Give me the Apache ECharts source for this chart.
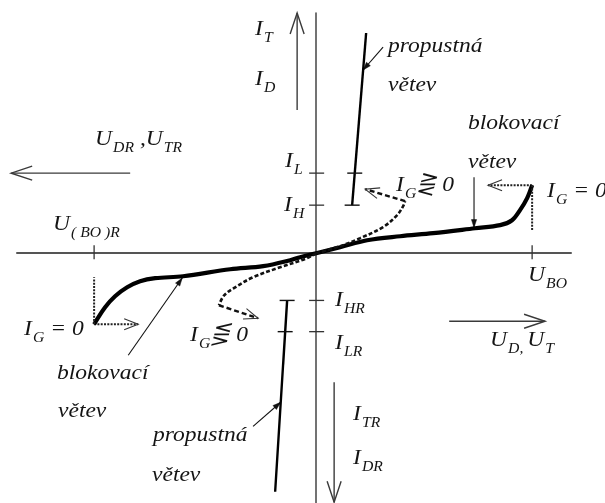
<!DOCTYPE html>
<html>
<head>
<meta charset="utf-8">
<script src="https://cdn.jsdelivr.net/npm/echarts@6/dist/echarts.min.js"></script>
<style>
  html, body { margin: 0; padding: 0; background: #fff; }
  #chart { width: 605px; height: 503px; }
</style>
</head>
<body>
<div id="chart"></div>
<script>
// Thyristor / triac volt-ampere characteristic (schematic units)
const U_BO = 10.0;      // forward breakover voltage
const U_BOR = -10.28;   // reverse breakover voltage
const I_L = 5.0;        // latching current
const I_H = 3.0;        // holding current
const I_HR = -2.95;     // reverse holding current
const I_LR = -4.9;      // reverse latching current

// blocking branch, I_G = 0 (reverse end -> forward end)
const blockingCurve = [
  [U_BOR, -4.44], [-9.77, -3.38], [-9.31, -2.69], [-8.75, -2.13], [-8.15, -1.75],
  [-7.45, -1.56], [-6.16, -1.44], [-3.98, -1.0], [-2.45, -0.81], [-1.2, -0.44],
  [-0.74, -0.25], [0, 0], [1.11, 0.375], [2.36, 0.81], [3.89, 1.06], [5.42, 1.25],
  [7.36, 1.56], [8.52, 1.75], [9.07, 2.06], [9.44, 2.69], [9.77, 3.44], [U_BO, 4.25]
];
// blocking branch with gate current
const gateCurveFwd = [[0, 0], [1.11, 0.44], [2.04, 0.94], [3.1, 1.63], [3.75, 2.38], [4.03, 2.94], [4.12, 3.25]];
const gateCurveRev = [[0, 0], [-0.42, -0.31], [-1.67, -0.88], [-2.92, -1.5], [-3.75, -2.13], [-4.26, -2.63], [-4.5, -3.25]];
// on-state (conducting) branches
const onStateFwd = [[1.667, I_H], [2.315, 13.75]];
const onStateRev = [[-1.343, I_HR], [-1.898, -14.9]];
// breakover switching guides
const breakoverFwd = [[U_BO, 4.25], [U_BO, 1.44]];
const breakoverRev = [[U_BOR, -4.44], [U_BOR, -1.5]];

// arrows: [x1, y1, x2, y2], tip at the second point
const quantityArrows = [
  [-0.88, 8.94, -0.88, 15.0],
  [-8.61, 5.0, -14.12, 5.0],
  [6.16, -4.25, 10.6, -4.25],
  [0.833, -8.06, 0.833, -15.55]
];
const switchArrows = [[U_BO, 4.25, 7.96, 4.25], [U_BOR, -4.44, -8.24, -4.44]];
const gateArrows = [[4.12, 3.25, 2.27, 4.0], [-4.5, -3.25, -2.69, -4.06]];
const pointerArrows = [
  [3.10, 12.875, 2.176, 11.44],
  [-2.92, -10.81, -1.64, -9.31],
  [7.31, 4.75, 7.31, 1.6],
  [-8.70, -6.375, -6.2, -1.55]
];

// tick marks on the axes
const currentTicks = [I_L, I_H, I_HR, I_LR];
const voltageTicks = [U_BO, U_BOR];

const FONT = "'Liberation Serif', 'Times New Roman', serif";
const MAIN_SIZE = 21, SUB_SIZE = 14, SUB_DROP = 6.5, SUB_GAP = 1, STRETCH = 1.12;
const INK = '#141414';

// labels: [left x, baseline y, parts]; a part is [text, isSubscript]
const labels = [
  [255, 36, [['I'], ['T', 1]]],
  [255, 86, [['I'], ['D', 1]]],
  [95, 146, [['U'], ['DR', 1], [' ,U'], ['TR', 1]]],
  [53, 231, [['U'], ['( BO )R', 1]]],
  [528, 282, [['U'], ['BO', 1]]],
  [285, 168, [['I'], ['L', 1]]],
  [284, 212, [['I'], ['H', 1]]],
  [335, 307, [['I'], ['HR', 1]]],
  [335, 350, [['I'], ['LR', 1]]],
  [353, 421, [['I'], ['TR', 1]]],
  [353, 465, [['I'], ['DR', 1]]],
  [490, 347, [['U'], ['D, ', 1], ['U'], ['T', 1]]],
  [396, 192, [['I'], ['G', 1], ['\u22DB 0']]],
  [190, 342, [['I'], ['G', 1], ['\u22DA 0']]],
  [24, 336, [['I'], ['G', 1], [' = 0']]],
  [547, 198, [['I'], ['G', 1], [' = 0']]],
  [388, 53, [['propustná']]],
  [388, 92, [['větev']]],
  [468, 130, [['blokovací']]],
  [468, 169, [['větev']]],
  [57, 380, [['blokovací']]],
  [58, 418, [['větev']]],
  [153, 442, [['propustná']]],
  [152, 482, [['větev']]]
];

const measureCtx = document.createElement('canvas').getContext('2d');
function textWidth(s, size) {
  measureCtx.font = 'italic ' + size + 'px ' + FONT;
  return measureCtx.measureText(s).width;
}
function buildLabel(item) {
  const [x, y, parts] = item;
  let cx = 0;
  const children = [];
  parts.forEach(function (p) {
    const sub = !!p[1];
    const size = sub ? SUB_SIZE : MAIN_SIZE;
    if (sub) cx += SUB_GAP;
    children.push({
      type: 'text', x: cx, y: (sub ? SUB_DROP : 0) - 0.3 * size,
      style: { text: p[0], font: 'italic ' + size + 'px ' + FONT, fill: INK, align: 'left', verticalAlign: 'middle' }
    });
    cx += textWidth(p[0], size);
  });
  return { type: 'group', x: x, y: y, scaleX: STRETCH, silent: true, children: children };
}

function arrowRenderer(o) {
  return function (params, api) {
    const a = api.coord([api.value(0), api.value(1)]);
    const b = api.coord([api.value(2), api.value(3)]);
    const dx = b[0] - a[0], dy = b[1] - a[1];
    const len = Math.hypot(dx, dy) || 1;
    const ux = dx / len, uy = dy / len, nx = -uy, ny = ux;
    const bx = b[0] - ux * o.head, by = b[1] - uy * o.head;
    const headPts = [[bx + nx * o.half, by + ny * o.half], [b[0], b[1]], [bx - nx * o.half, by - ny * o.half]];
    return {
      type: 'group',
      children: [
        { type: 'line', shape: { x1: a[0], y1: a[1], x2: b[0], y2: b[1] },
          style: { stroke: o.color, lineWidth: o.width, lineDash: o.dash || null, fill: null } },
        o.filled
          ? { type: 'polygon', shape: { points: headPts }, style: { fill: o.color, stroke: o.color, lineWidth: 0.5 } }
          : { type: 'polyline', shape: { points: headPts }, style: { stroke: o.headColor || o.color, lineWidth: o.headWidth || o.width, fill: null } }
      ]
    };
  };
}

function arrowSeries(name, arrows, o) {
  return { type: 'custom', name: name, data: arrows, clip: false, silent: true, renderItem: arrowRenderer(o), z: 3 };
}

function lineSeries(name, data, style, smooth) {
  return {
    type: 'line', name: name, data: data, showSymbol: false, symbol: 'none',
    smooth: smooth || false, clip: false, silent: true, lineStyle: style, z: 4
  };
}

// position along an on-state branch at a given current
function onBranch(branch, i) {
  const [p, q] = branch;
  const t = (i - p[1]) / (q[1] - p[1]);
  return [p[0] + t * (q[0] - p[0]), i];
}
const crossbars = [onBranch(onStateFwd, I_L), onBranch(onStateFwd, I_H), onBranch(onStateRev, I_HR), onBranch(onStateRev, I_LR)];

const chart = echarts.init(document.getElementById('chart'), null, { renderer: 'canvas' });
chart.setOption({
  animation: false,
  backgroundColor: '#ffffff',
  grid: { left: 17, right: 34, top: 13, bottom: 0 },
  xAxis: {
    type: 'value', min: -13.85, max: 11.8,
    axisLine: { onZero: true, lineStyle: { color: '#555', width: 2 } },
    axisTick: { show: false }, axisLabel: { show: false }, splitLine: { show: false }
  },
  yAxis: {
    type: 'value', min: -15.6, max: 15,
    axisLine: { onZero: true, lineStyle: { color: '#444', width: 1.5 } },
    axisTick: { show: false }, axisLabel: { show: false }, splitLine: { show: false }
  },
  series: [
    lineSeries('blocking', blockingCurve, { color: '#000', width: 4.2 }, 0.35),
    lineSeries('gate fwd', gateCurveFwd, { color: '#111', width: 2.6, type: [4, 2.2] }, 0.35),
    lineSeries('gate rev', gateCurveRev, { color: '#111', width: 2.6, type: [4, 2.2] }, 0.35),
    lineSeries('on-state fwd', onStateFwd, { color: '#000', width: 2.4 }),
    lineSeries('on-state rev', onStateRev, { color: '#000', width: 2.4 }),
    lineSeries('breakover fwd', breakoverFwd, { color: '#222', width: 2, type: [2, 1.3] }),
    lineSeries('breakover rev', breakoverRev, { color: '#222', width: 2, type: [2, 1.3] }),
    arrowSeries('quantities', quantityArrows, { color: '#3a3a3a', width: 1.4, head: 21, half: 7 }),
    arrowSeries('switching', switchArrows, { color: '#222', width: 2, dash: [2, 1.3], head: 14, half: 5.5, headWidth: 1.1, headColor: '#333' }),
    arrowSeries('gate', gateArrows, { color: '#111', width: 2.4, dash: [5, 3], head: 14, half: 5.5, headWidth: 1.1, headColor: '#333' }),
    arrowSeries('pointers', pointerArrows, { color: '#111', width: 1.1, head: 8, half: 2.6, filled: true }),
    {
      type: 'custom', name: 'current ticks', silent: true, clip: false, z: 5,
      data: currentTicks.map(function (v) { return [0, v]; }),
      renderItem: function (params, api) {
        const p = api.coord([api.value(0), api.value(1)]);
        return { type: 'line', shape: { x1: p[0] - 7, y1: p[1], x2: p[0] + 8, y2: p[1] }, style: { stroke: '#333', lineWidth: 1.3 } };
      }
    },
    {
      type: 'custom', name: 'voltage ticks', silent: true, clip: false, z: 5,
      data: voltageTicks.map(function (v) { return [v, 0]; }),
      renderItem: function (params, api) {
        const p = api.coord([api.value(0), api.value(1)]);
        return { type: 'line', shape: { x1: p[0], y1: p[1] - 8, x2: p[0], y2: p[1] + 6 }, style: { stroke: '#333', lineWidth: 1.3 } };
      }
    },
    {
      type: 'custom', name: 'branch marks', silent: true, clip: false, z: 5,
      data: crossbars,
      renderItem: function (params, api) {
        const p = api.coord([api.value(0), api.value(1)]);
        return { type: 'line', shape: { x1: p[0] - 7.5, y1: p[1], x2: p[0] + 7.5, y2: p[1] }, style: { stroke: '#111', lineWidth: 1.4 } };
      }
    }
  ],
  graphic: { elements: labels.map(buildLabel) }
});
</script>
</body>
</html>
